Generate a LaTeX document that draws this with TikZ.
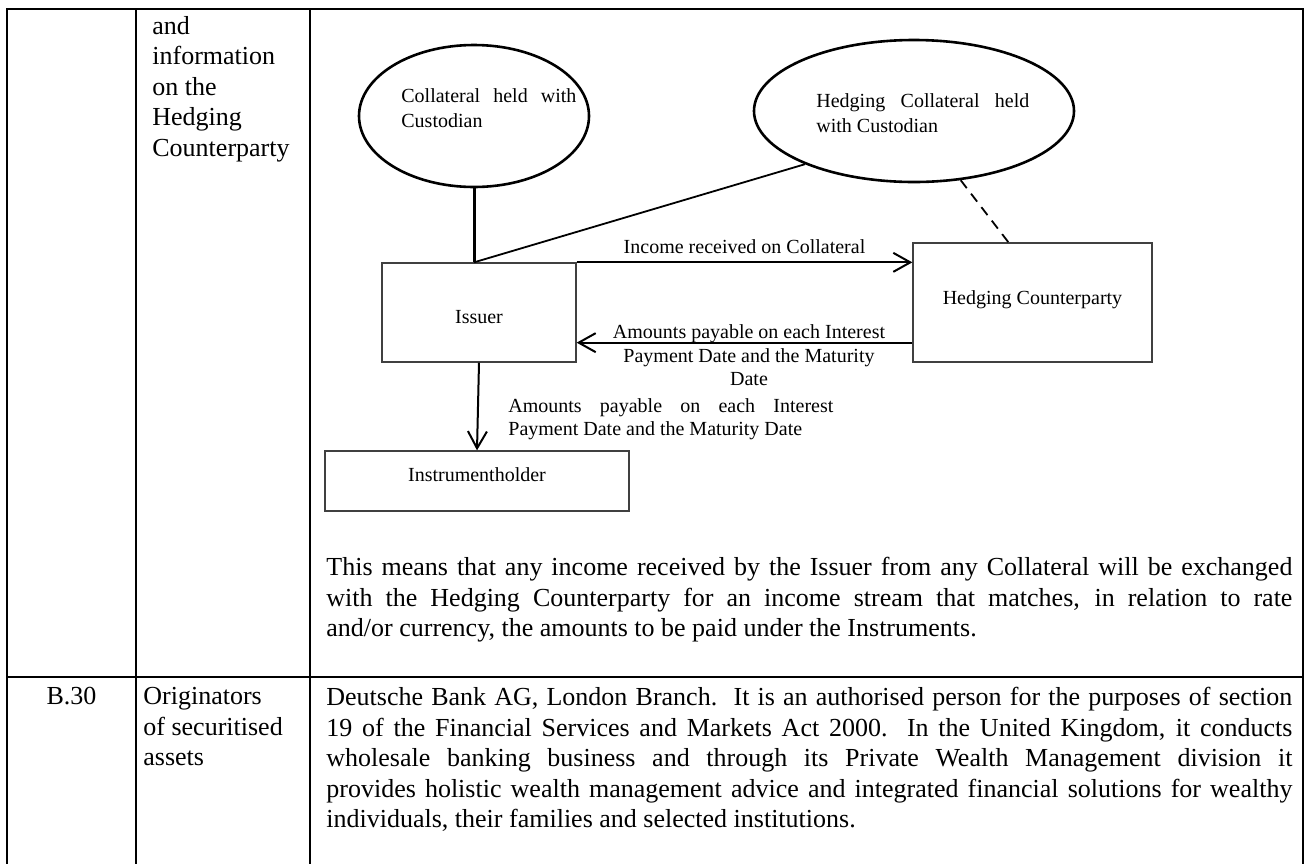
\documentclass[tikz,border=0pt]{standalone}
\usepackage{fontspec}
\setmainfont{Liberation Serif}
\usetikzlibrary{shapes.geometric,arrows.meta,calc}
\newcommand\jline[2]{\makebox[#1][s]{#2}}
\begin{document}
\begin{tikzpicture}[x=0.5pt,y=-0.5pt,
  body/.style={font=\fontsize{13}{15.25}\selectfont, inner sep=0pt, align=left},
  small/.style={font=\fontsize{10}{11.9}\selectfont, inner sep=0pt},
  tbl/.style={line width=1pt},
  ell/.style={ellipse, draw, line width=1.3pt, inner sep=0pt},
  box/.style={rectangle, draw=black!75, line width=0.65pt, inner sep=0pt, font=\fontsize{10}{12}\selectfont},
  arr/.style={line width=1pt, -{Straight Barb[length=8.5pt,width=9.5pt]}},
  link/.style={line width=0.9pt},
]
\useasboundingbox (0,0) rectangle (1307,863);
% table rules
\draw[tbl] (7,875) -- (7,9) -- (1303,9) -- (1303,875);
\draw[tbl] (136,9) -- (136,875);
\draw[tbl] (310,9) -- (310,875);
\draw[tbl] (7,677) -- (1303,677);
% table texts
\node[body, anchor=north west] (hdr) at (152,16) {and\\information\\on the\\Hedging\\Counterparty};
\node[body, anchor=north west] (para1) at (326,557) {\jline{483pt}{This means that any income received by the Issuer from any Collateral will be exchanged}\\\jline{483pt}{with the Hedging Counterparty for an income stream that matches, in relation to rate}\\and/or currency, the amounts to be paid under the Instruments.};
\node[body, anchor=north] (b30) at (71.5,687) {B.30};
\node[body, anchor=north west] (orig) at (143,687) {Originators\\of securitised\\assets};
\node[body, anchor=north west] (para2) at (326,687) {\jline{483pt}{Deutsche Bank AG, London Branch.\ \ It is an authorised person for the purposes of section}\\\jline{483pt}{19 of the Financial Services and Markets Act 2000.\ \ In the United Kingdom, it conducts}\\\jline{483pt}{wholesale banking business and through its Private Wealth Management division it}\\\jline{483pt}{provides holistic wealth management advice and integrated financial solutions for wealthy}\\individuals, their families and selected institutions.};
% diagram
\node[ell, minimum width=115pt, minimum height=71pt] (ell1) at (474,116) {};
\node[ell, minimum width=160pt, minimum height=71pt] (ell2) at (914,111) {};
\node[small, anchor=north west, align=left, font=\fontsize{10}{12.75}\selectfont] (t1) at (401,88) {\jline{87.5pt}{Collateral held with}\\Custodian};
\node[small, anchor=north west, align=left, font=\fontsize{10}{12.75}\selectfont] (t2) at (816,93) {\jline{106.5pt}{Hedging Collateral held}\\with Custodian};
\node[box, minimum width=97pt, minimum height=49.5pt, text height=11.1pt, text depth=0pt] (issuer) at (479,312.5) {Issuer};
\node[box, minimum width=119.5pt, minimum height=59.5pt, text height=7pt, text depth=4.9pt] (hedge) at (1032.5,302.5) {Hedging Counterparty};
\node[box, minimum width=152pt, minimum height=30pt, text height=6pt, text depth=6pt] (instr) at (477,481) {Instrumentholder};
% connectors
\coordinate (ctop) at (ell1.south |- issuer.north);
\draw[line width=1.5pt] (ell1.south) -- (ctop);
\draw[link] (ctop) -- (ell2.206);
\draw[link, dash pattern=on 5pt off 3.5pt] (ell2.304) -- ($(hedge.north west)!0.4!(hedge.north east)$);
\draw[arr] (issuer.north east) -- (issuer.north east -| hedge.west) node[midway, above=4pt, small] (lab1) {Income received on Collateral};
\coordinate (b1) at ($(hedge.south west)+(0,-20)$);
\draw[arr] (b1) -- (b1 -| issuer.east);
\node[small, anchor=north, align=center] (lab2) at (749,324) {Amounts payable on each Interest\\Payment Date and the Maturity\\Date};
\draw[arr] (issuer.south) -- (instr.north);
\node[small, anchor=north west, align=left, font=\fontsize{10}{11.6}\selectfont] (lab3) at (508,398) {\jline{162.5pt}{Amounts payable on each Interest}\\Payment Date and the Maturity Date};
\end{tikzpicture}
\end{document}
